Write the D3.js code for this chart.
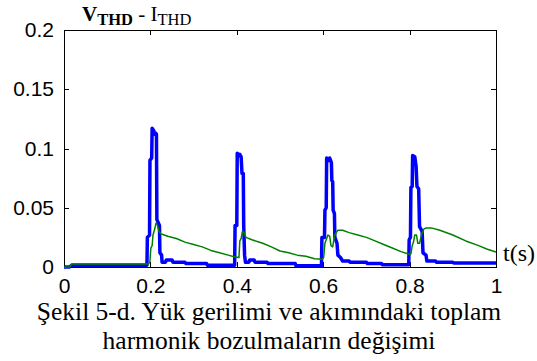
<!DOCTYPE html>
<html>
<head>
<meta charset="utf-8">
<script src="https://cdn.jsdelivr.net/npm/d3@7"></script>
<style>
  body { margin: 0; background: #fff; }
  svg { display: block; }
</style>
</head>
<body>
<div id="chart"></div>
<script>
// time axis (s) and tick labels
const xTicks = [0, 0.2, 0.4, 0.6, 0.8, 1];
const xTickLabels = ["0", "0.2", "0.4", "0.6", "0.8", "1"];
const yTicks = [0, 0.05, 0.1, 0.15, 0.2];
const yTickLabels = ["0", "0.05", "0.1", "0.15", "0.2"];

// V_THD (thick blue) : [t, value]
const vThd = [
  [0, 0], [0.013, 0], [0.018, 0.0015], [0.192, 0.0015],
  [0.193, 0.025], [0.198, 0.027], [0.199, 0.09], [0.203, 0.092], [0.204, 0.117], [0.208, 0.115],
  [0.209, 0.112], [0.212, 0.113], [0.214, 0.112], [0.215, 0.04], [0.221, 0.035], [0.222, 0.012],
  [0.226, 0.01], [0.227, 0.004], [0.235, 0.004], [0.237, 0.006], [0.25, 0.006], [0.252, 0.004],
  [0.28, 0.004], [0.282, 0.003], [0.33, 0.003], [0.332, 0.0015], [0.395, 0.0015],
  [0.396, 0.035], [0.4, 0.035], [0.401, 0.096], [0.405, 0.094], [0.407, 0.095], [0.41, 0.093],
  [0.412, 0.079], [0.415, 0.079], [0.416, 0.035], [0.418, 0.01], [0.42, 0.004], [0.428, 0.004],
  [0.43, 0.006], [0.44, 0.006], [0.442, 0.004], [0.47, 0.004], [0.472, 0.003], [0.535, 0.003],
  [0.537, 0.001], [0.596, 0.001],
  [0.597, 0.025], [0.603, 0.025], [0.604, 0.048], [0.607, 0.05], [0.608, 0.092], [0.613, 0.09],
  [0.615, 0.092], [0.619, 0.088], [0.62, 0.073], [0.622, 0.072], [0.623, 0.048], [0.626, 0.045],
  [0.627, 0.025], [0.632, 0.02], [0.634, 0.01], [0.64, 0.008], [0.645, 0.005], [0.66, 0.005],
  [0.662, 0.004], [0.7, 0.004], [0.702, 0.003], [0.735, 0.003], [0.737, 0.002], [0.798, 0.002],
  [0.799, 0.023], [0.802, 0.025], [0.803, 0.067], [0.806, 0.068], [0.807, 0.094], [0.812, 0.093],
  [0.815, 0.085], [0.817, 0.068], [0.821, 0.066], [0.823, 0.034], [0.829, 0.03], [0.831, 0.012],
  [0.838, 0.01], [0.84, 0.005], [0.86, 0.005], [0.862, 0.004], [0.9, 0.004], [0.902, 0.0034],
  [1, 0.0034]
];

// I_THD (thin green) : [t, value]
const iThd = [
  [0, 0], [0.013, 0], [0.018, 0.0025], [0.196, 0.0025], [0.199, 0.005], [0.201, 0.016],
  [0.204, 0.018], [0.206, 0.027], [0.21, 0.032], [0.213, 0.037], [0.216, 0.036], [0.219, 0.031],
  [0.224, 0.028], [0.24, 0.026], [0.26, 0.024], [0.28, 0.021], [0.3, 0.019], [0.32, 0.017],
  [0.34, 0.014], [0.36, 0.012], [0.38, 0.01], [0.396, 0.0085], [0.405, 0.008], [0.407, 0.022],
  [0.41, 0.024], [0.413, 0.03], [0.417, 0.029], [0.421, 0.025], [0.435, 0.023], [0.46, 0.02],
  [0.48, 0.017], [0.5, 0.0135], [0.52, 0.012], [0.54, 0.01], [0.56, 0.009], [0.58, 0.007],
  [0.598, 0.0065], [0.601, 0.008], [0.604, 0.02], [0.607, 0.023], [0.611, 0.027], [0.615, 0.026],
  [0.618, 0.018], [0.622, 0.017], [0.626, 0.026], [0.63, 0.029], [0.634, 0.031], [0.645, 0.031],
  [0.66, 0.029], [0.68, 0.027], [0.7, 0.025], [0.72, 0.022], [0.74, 0.019], [0.76, 0.016],
  [0.78, 0.013], [0.798, 0.011], [0.803, 0.011], [0.806, 0.018], [0.809, 0.021], [0.812, 0.027],
  [0.816, 0.027], [0.819, 0.02], [0.823, 0.02], [0.828, 0.028], [0.833, 0.032], [0.838, 0.033],
  [0.85, 0.033], [0.87, 0.031], [0.9, 0.027], [0.93, 0.022], [0.96, 0.018], [0.98, 0.015],
  [1, 0.0127]
];

const captionLines = [
  "Şekil 5-d. Yük gerilimi ve akımındaki toplam",
  "harmonik bozulmaların değişimi"
];

const width = 537;
const height = 361;
const margin = { top: 30, right: 41, bottom: 94, left: 64 };
const innerWidth = width - margin.left - margin.right;
const innerHeight = height - margin.top - margin.bottom;

const svg = d3.select("#chart")
  .append("svg")
  .attr("width", width)
  .attr("height", height)
  .style("background-color", "#fff");

const g = svg.append("g")
  .attr("transform", `translate(${margin.left}, ${margin.top})`);

const xScale = d3.scaleLinear().domain([0, 1]).range([0, innerWidth]);
const yScale = d3.scaleLinear().domain([0, 0.2]).range([innerHeight, 0]);

const tickFont = "'Liberation Sans', Arial, sans-serif";
const serif = "'Liberation Serif', 'Times New Roman', serif";

// bottom axis with labels, ticks pointing in
const xAxis = d3.axisBottom(xScale)
  .tickValues(xTicks)
  .tickFormat((d, i) => xTickLabels[i])
  .tickSizeInner(-5).tickSizeOuter(0).tickPadding(11);

const yAxis = d3.axisLeft(yScale)
  .tickValues(yTicks)
  .tickFormat((d, i) => yTickLabels[i])
  .tickSizeInner(-5).tickSizeOuter(0).tickPadding(10);

g.append("g")
  .attr("transform", `translate(0, ${innerHeight})`)
  .call(xAxis);

g.append("g").call(yAxis);

// top and right: ticks only
const gTop = g.append("g")
  .call(d3.axisTop(xScale).tickValues(xTicks).tickSizeInner(-5).tickSizeOuter(0));
const gRight = g.append("g")
  .attr("transform", `translate(${innerWidth}, 0)`)
  .call(d3.axisRight(yScale).tickValues(yTicks).tickSizeInner(-5).tickSizeOuter(0));
gTop.selectAll("text").remove();
gRight.selectAll("text").remove();

g.selectAll(".domain").remove();
g.selectAll(".tick line").attr("stroke", "#000").attr("shape-rendering", "crispEdges");
g.selectAll(".tick text")
  .attr("fill", "#000")
  .attr("font-family", tickFont)
  .attr("font-size", 21);

// box
g.append("rect")
  .attr("x", 0.5).attr("y", 0.5)
  .attr("width", innerWidth).attr("height", innerHeight)
  .attr("fill", "none")
  .attr("stroke", "#000")
  .attr("shape-rendering", "crispEdges");

const line = d3.line()
  .x(d => xScale(d[0]))
  .y(d => yScale(d[1]));

g.append("path")
  .datum(vThd)
  .attr("d", line)
  .attr("fill", "none")
  .attr("stroke", "#0000ff")
  .attr("stroke-width", 3.5)
  .attr("stroke-linejoin", "round");

g.append("path")
  .datum(iThd)
  .attr("d", line)
  .attr("fill", "none")
  .attr("stroke", "#008000")
  .attr("stroke-width", 1.5)
  .attr("stroke-linejoin", "round");

// title
const title = svg.append("text")
  .attr("x", 82).attr("y", 21)
  .attr("font-family", serif)
  .attr("fill", "#000");
title.append("tspan").text("V").attr("font-weight", "bold").attr("font-size", 21);
title.append("tspan").text("THD").attr("font-weight", "bold").attr("font-size", 16.5).attr("dy", 4);
title.append("tspan").text(" - I").attr("font-size", 21).attr("dy", -4);
title.append("tspan").text("THD").attr("font-size", 16.5).attr("dy", 4);

// axis unit
svg.append("text")
  .attr("x", margin.left + innerWidth + 7)
  .attr("y", 261)
  .attr("font-family", serif)
  .attr("font-size", 24)
  .text("t(s)");

// caption
svg.selectAll(".caption")
  .data(captionLines)
  .enter().append("text")
  .attr("class", "caption")
  .attr("x", 269)
  .attr("y", (d, i) => 320 + i * 29)
  .attr("text-anchor", "middle")
  .attr("font-family", serif)
  .attr("font-size", 25.5)
  .text(d => d);
</script>
</body>
</html>
